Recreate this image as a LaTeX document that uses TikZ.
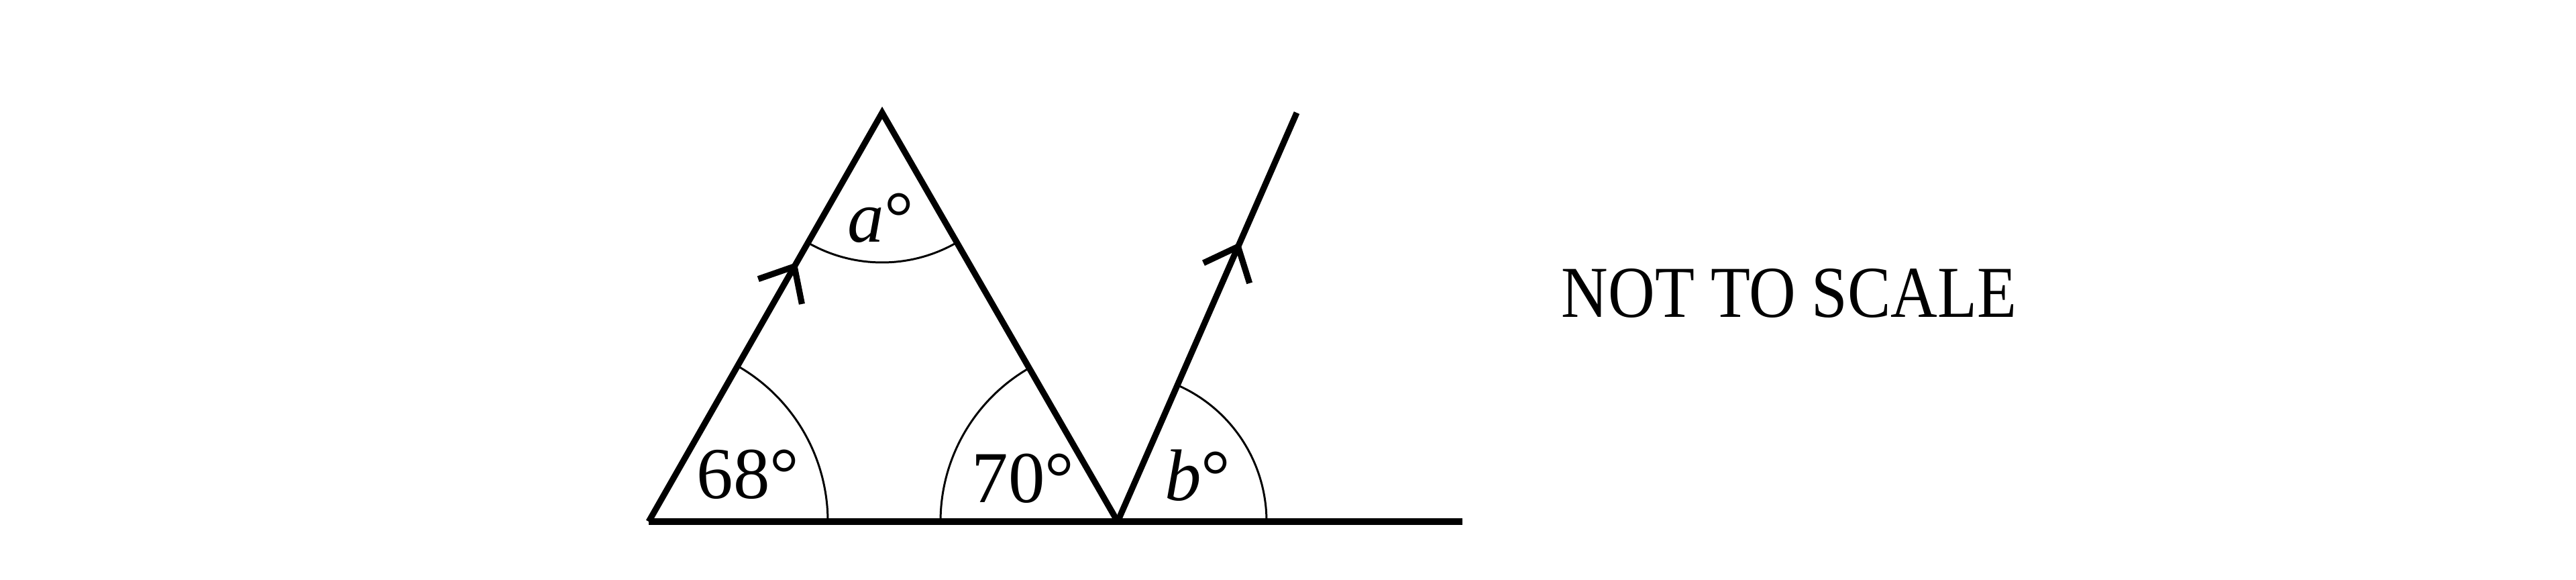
\documentclass[tikz,border=0pt]{standalone}
\usepackage{fontspec}
\setmainfont{Liberation Serif}
\usetikzlibrary{angles,arrows.meta,decorations.markings}

\tikzset{
  side/.style={line width=2.6pt},
  anglearc/.style={draw,line width=0.85pt},
  lbl/.style={inner sep=0pt,font=\fontsize{31}{37}\selectfont},
  parmark/.style={decoration={markings,
      mark=at position #1 with {\arrow{Straight Barb[length=0.43cm,width=0.75cm,line width=2.6pt]}}},
    postaction={decorate}}
}

\begin{document}
\begin{tikzpicture}
	\useasboundingbox (0,0) rectangle (38.4,8.63);
	
	\coordinate (A) at (9.67,0.86);
	\coordinate (C) at (13.15,6.95);
	\coordinate (B) at (16.66,0.86);
	\coordinate (D) at (19.33,6.95);
	\coordinate (E) at (21.80,0.86);
	
	% lines
	\draw [side] (A) -- (E);
	\draw [side] (A) -- (C) -- (B);
	\draw [side] (B) -- (D);
	\path [parmark=0.634] (A) -- (C);
	\path [parmark=0.683] (B) -- (D);
	
	% angle arcs
	\pic [anglearc, angle radius=2.67cm] {angle = B--A--C};
	\pic [anglearc, angle radius=2.64cm] {angle = C--B--A};
	\pic [anglearc, angle radius=2.23cm] {angle = A--C--B};
	\pic [anglearc, angle radius=2.22cm] {angle = E--B--D};
	
	\node [lbl] (angA) at (11.15,1.56) {68°};
	\node [lbl] (angB) at (15.25,1.50) {70°};
	\node [lbl] (angb) at (17.85,1.55) {\textit{b}°};
	\node [lbl] (anga) at (13.13,5.38) {\textit{a}°};
	\node [lbl] (note) at (26.67,4.26) {\scalebox{0.885}[1]{NOT TO SCALE}};
\end{tikzpicture}
\end{document}
